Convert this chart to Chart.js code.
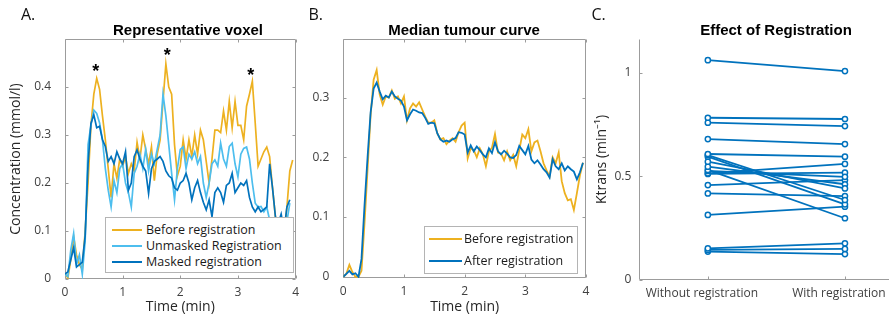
<!DOCTYPE html>
<html>
<head>
<meta charset="utf-8">
<script src="https://cdn.jsdelivr.net/npm/chart.js@4.4.1/dist/chart.umd.min.js"></script>
<style>
  html, body { margin:0; padding:0; width:889px; height:320px; overflow:hidden; background:#fff; }
  body { position:relative; }
  canvas { position:absolute; top:0; }
  .ttl { position:absolute; width:300px; text-align:center; font:bold 15px "Liberation Sans", Arial, sans-serif; line-height:15px; color:#000; white-space:nowrap; }
  .let { position:absolute; font:16px "Open Sans", sans-serif; line-height:16px; color:#111; }
  .lgd { position:absolute; background:#fff; border:1px solid #b4b4b4; box-sizing:border-box; }
  .lgi { position:absolute; font:12.5px "Open Sans", sans-serif; line-height:16px; color:#1a1a1a; white-space:nowrap; }
  .lsw { position:absolute; height:2px; }
</style>
</head>
<body>
<canvas id="cA" width="305" height="320" style="left:0px"></canvas>
<canvas id="cB" width="295" height="320" style="left:305px"></canvas>
<canvas id="cC" width="340" height="320" style="left:590px"></canvas>

<div class="let" style="left:21px;top:5.5px">A.</div>
<div class="let" style="left:308.5px;top:5.5px">B.</div>
<div class="let" style="left:591.5px;top:5.5px">C.</div>
<div class="ttl" id="tA" style="left:38px;top:22.3px"></div>
<div class="ttl" id="tB" style="left:314px;top:22.3px"></div>
<div class="ttl" id="tC" style="left:626px;top:22.3px"></div>
<div class="lgd" id="lgA" style="left:105px;top:217px;width:189px;height:56px"></div>
<div class="lgd" id="lgB" style="left:424px;top:226px;width:154px;height:48px"></div>

<script>
// ---------------- DATA ----------------
const panelTitles = ['Representative voxel', 'Median tumour curve', 'Effect of Registration'];
const timeMin = [0.00,0.05,0.10,0.15,0.20,0.25,0.30,0.35,0.40,0.45,0.50,0.55,0.60,0.65,0.70,0.75,
  0.80,0.85,0.90,0.95,1.00,1.05,1.10,1.15,1.20,1.25,1.30,1.35,1.40,1.45,1.50,1.55,
  1.60,1.65,1.70,1.75,1.80,1.85,1.90,1.95,2.00,2.05,2.10,2.15,2.20,2.25,2.30,2.35,
  2.40,2.45,2.50,2.55,2.60,2.65,2.70,2.75,2.80,2.85,2.90,2.95,3.00,3.05,3.10,3.15,
  3.20,3.25,3.30,3.35,3.40,3.45,3.50,3.55,3.60,3.65,3.70,3.75,3.80,3.85,3.90,3.95];

// Panel A: representative voxel
const seriesNamesA = ['Before registration', 'Unmasked Registration', 'Masked registration'];
const beforeA = [0.012,0.002,0.040,0.088,0.050,0.030,0.020,0.100, 0.200,0.320,0.385,0.418,0.395,0.340,0.290,0.230,
  0.170,0.240,0.210,0.250,0.235,0.255,0.220,0.240, 0.225,0.285,0.250,0.300,0.270,0.240,0.275,0.205,
  0.260,0.290,0.370,0.448,0.400,0.385,0.280,0.215, 0.235,0.290,0.250,0.290,0.255,0.300,0.260,0.310,
  0.290,0.245,0.200,0.250,0.310,0.310,0.305,0.350, 0.310,0.370,0.315,0.370,0.320,0.320,0.290,0.360,
  0.385,0.412,0.325,0.235,0.250,0.265,0.275,0.255, 0.190,0.130,0.100,0.110,0.095,0.150,0.225,0.248];
const unmaskedA = [0.010,0.005,0.060,0.095,0.030,0.050,0.010,0.080, 0.280,0.320,0.352,0.345,0.325,0.290,0.230,0.185,
  0.150,0.205,0.180,0.230,0.240,0.200,0.180,0.150, 0.220,0.235,0.260,0.230,0.270,0.225,0.260,0.240,
  0.270,0.300,0.385,0.340,0.280,0.220,0.165,0.230, 0.270,0.275,0.230,0.260,0.250,0.265,0.240,0.255,
  0.200,0.170,0.200,0.240,0.248,0.235,0.283,0.250, 0.235,0.276,0.283,0.240,0.213,0.260,0.272,0.275,
  0.250,0.200,0.158,0.150,0.151,0.140,0.150,0.123, 0.095,0.110,0.100,0.090,0.060,0.120,0.158,null];
const maskedA = [0.010,0.015,0.040,0.065,0.025,0.030,0.035,0.090, 0.240,0.324,0.342,0.315,0.318,0.290,0.276,0.245,
  0.255,0.240,0.265,0.250,0.240,0.265,0.185,0.200, 0.255,0.269,0.250,0.235,0.225,0.178,0.230,0.245,
  0.250,0.255,0.245,0.225,0.215,0.210,0.190,0.185, 0.200,0.205,0.220,0.200,0.165,0.190,0.205,0.180,
  0.160,0.144,0.165,0.130,0.180,0.190,0.180,0.160, 0.195,0.200,0.220,0.180,0.190,0.200,0.195,0.205,
  0.170,0.150,0.140,0.150,0.140,0.145,0.150,0.240, 0.190,0.130,0.116,0.135,0.100,0.150,0.165,null];
const starTimesA = [0.535, 1.772, 3.224];
const starLevelsA = [0.442, 0.474, 0.434];

// Panel B: median tumour curve
const seriesNamesB = ['Before registration', 'After registration'];
const beforeB = [0.000,0.005,0.020,0.008,0.000,0.000,0.010,0.090, 0.180,0.270,0.330,0.346,0.305,0.288,0.302,0.300,
  0.312,0.298,0.302,0.290,0.302,0.262,0.282,0.290, 0.285,0.292,0.280,0.268,0.258,0.258,0.262,0.240,
  0.230,0.232,0.222,0.228,0.232,0.226,0.242,0.253, 0.258,0.198,0.215,0.212,0.200,0.215,0.205,0.185,
  0.210,0.216,0.239,0.208,0.206,0.195,0.210,0.195, 0.204,0.185,0.212,0.238,0.232,0.247,0.210,0.225,
  0.228,0.210,0.190,0.178,0.168,0.200,0.190,0.208, 0.160,0.140,0.128,0.130,0.112,0.140,0.170,0.191];
const afterB = [0.000,0.005,0.010,0.004,0.006,0.000,0.030,0.120, 0.200,0.275,0.315,0.325,0.310,0.297,0.303,0.300,
  0.310,0.302,0.298,0.295,0.285,0.262,0.272,0.280, 0.278,0.275,0.274,0.266,0.256,0.258,0.257,0.240,
  0.230,0.226,0.228,0.226,0.230,0.232,0.242,0.241, 0.238,0.208,0.220,0.210,0.218,0.212,0.205,0.200,
  0.215,0.207,0.225,0.210,0.205,0.211,0.206,0.200, 0.199,0.204,0.219,0.212,0.205,0.219,0.196,0.190,
  0.195,0.188,0.180,0.175,0.166,0.197,0.185,0.180, 0.190,0.178,0.185,0.180,0.176,0.163,0.175,0.191];

// Panel C: Ktrans per tumour, without vs with registration
const categoriesC = ['Without registration', 'With registration'];
const ktransWithout = [1.061,0.783,0.759,0.680,0.608,0.603,0.595,0.571,0.547,0.531,0.526,0.515,0.512,0.458,0.418,0.314,0.153,0.145,0.137];
const ktransWith    = [1.008,0.777,0.743,0.656,0.595,0.386,0.365,0.442,0.462,0.298,0.498,0.560,0.518,0.482,0.405,0.354,0.177,0.150,0.125];

// Tick values
const timeTicks = [0, 1, 2, 3, 4];
const concTicksA = [0, 0.1, 0.2, 0.3, 0.4];
const concTicksB = [0, 0.1, 0.2, 0.3];
const ktransTicks = [0, 0.5, 1];

// ---------------- STYLE ----------------
const ORANGE = '#EDB120', LIGHT = '#4DBEEE', BLUE = '#0072BD';
const AXIS = '#9c9c9c', TICKTXT = '#404040', LABTXT = '#262626';
const tickFont = { family: 'Open Sans', size: 12 };
const labFont = { family: 'Open Sans', size: 14 };

const matlabAxes = {
  id: 'matlabAxes',
  beforeDatasetsDraw(chart, args, o) {
    const { ctx, chartArea: a, scales } = chart;
    const L = Math.round(a.left) + 0.5, R = Math.round(a.right) - 0.5;
    const T = Math.round(a.top) + 0.5, B = Math.round(a.bottom) - 0.5;
    const len = o.tickLen || 3;
    ctx.save();
    ctx.strokeStyle = AXIS; ctx.lineWidth = 1;
    ctx.beginPath();
    if (o.box) { ctx.rect(L, T, R - L, B - T); }
    else { ctx.moveTo(L, T); ctx.lineTo(L, B); ctx.lineTo(R, B); }
    scales.x.ticks.forEach(t => {
      const px = Math.round(scales.x.getPixelForValue(t.value)) + 0.5;
      ctx.moveTo(px, B); ctx.lineTo(px, B - len);
      if (o.box) { ctx.moveTo(px, T); ctx.lineTo(px, T + len); }
    });
    scales.y.ticks.forEach(t => {
      const py = Math.round(scales.y.getPixelForValue(t.value)) + 0.5;
      ctx.moveTo(L, py); ctx.lineTo(L + len, py);
      if (o.box) { ctx.moveTo(R, py); ctx.lineTo(R - len, py); }
    });
    ctx.stroke();
    ctx.restore();
  }
};

const starMarks = {
  id: 'starMarks',
  afterDatasetsDraw(chart, args, o) {
    if (!o.times) return;
    const { ctx, scales } = chart;
    ctx.save();
    ctx.fillStyle = '#000';
    ctx.font = 'bold 18px "Liberation Sans", Arial, sans-serif';
    ctx.textAlign = 'center'; ctx.textBaseline = 'alphabetic';
    o.times.forEach((t, i) => {
      const x = scales.x.getPixelForValue(t);
      const y = scales.y.getPixelForValue(o.levels[i]);
      ctx.fillText('*', x, y + 10);
    });
    ctx.restore();
  }
};

function pts(xs, ys) { return xs.map((x, i) => ({ x: x, y: ys[i] })); }

function timeScales(yMin, yMax, yTicks, yWidth, xHeight, yTitle) {
  return {
    x: {
      type: 'linear', min: 0, max: 4,
      afterBuildTicks: s => { s.ticks = timeTicks.map(v => ({ value: v })); },
      afterFit: s => { s.height = xHeight; },
      grid: { display: false, drawTicks: false }, border: { display: false },
      ticks: { padding: 6, font: tickFont, color: TICKTXT, maxRotation: 0, autoSkip: false, callback: v => String(v) },
      title: { display: true, text: 'Time (min)', font: labFont, color: LABTXT, padding: { top: 0, bottom: 5 } }
    },
    y: {
      type: 'linear', min: yMin, max: yMax,
      afterBuildTicks: s => { s.ticks = yTicks.map(v => ({ value: v })); },
      afterFit: s => { s.width = yWidth; },
      grid: { display: false, drawTicks: false }, border: { display: false },
      ticks: { padding: 14, font: tickFont, color: TICKTXT, autoSkip: false, callback: v => String(v) },
      title: { display: !!yTitle, text: yTitle || '', font: labFont, color: LABTXT, padding: { top: 8, bottom: 0 } }
    }
  };
}

const common = {
  responsive: false, animation: false, events: [],
  elements: { point: { radius: 0 }, line: { tension: 0 } }
};

// ---------------- PANEL A ----------------
const chartA = new Chart(document.getElementById('cA'), {
  type: 'line',
  data: {
    datasets: [
      { label: seriesNamesA[0], data: pts(timeMin, beforeA), borderColor: ORANGE, borderWidth: 1.7, order: 3 },
      { label: seriesNamesA[1], data: pts(timeMin, unmaskedA), borderColor: LIGHT, borderWidth: 1.7, order: 2 },
      { label: seriesNamesA[2], data: pts(timeMin, maskedA), borderColor: BLUE, borderWidth: 1.7, order: 1 }
    ]
  },
  options: Object.assign({}, common, {
    layout: { padding: { left: 0, right: 3, top: 39, bottom: 0 } },
    plugins: { legend: { display: false }, tooltip: { enabled: false },
      matlabAxes: { box: true }, starMarks: { times: starTimesA, levels: starLevelsA } },
    scales: timeScales(0, 0.5, concTicksA, 65, 41, 'Concentration (mmol/l)')
  }),
  plugins: [matlabAxes, starMarks]
});

// ---------------- PANEL B ----------------
const chartB = new Chart(document.getElementById('cB'), {
  type: 'line',
  data: {
    datasets: [
      { label: seriesNamesB[0], data: pts(timeMin, beforeB), borderColor: ORANGE, borderWidth: 1.8, order: 2 },
      { label: seriesNamesB[1], data: pts(timeMin, afterB), borderColor: BLUE, borderWidth: 1.8, order: 1 }
    ]
  },
  options: Object.assign({}, common, {
    layout: { padding: { left: 0, right: 14, top: 39, bottom: 0 } },
    plugins: { legend: { display: false }, tooltip: { enabled: false }, matlabAxes: { box: true } },
    scales: timeScales(-0.002, 0.398, concTicksB, 38.3, 42, null)
  }),
  plugins: [matlabAxes]
});

// ---------------- PANEL C ----------------
const chartC = new Chart(document.getElementById('cC'), {
  type: 'line',
  data: {
    datasets: ktransWithout.map((w, i) => ({
      label: 'Tumour ' + (i + 1),
      data: [{ x: 1, y: w }, { x: 2, y: ktransWith[i] }],
      borderColor: BLUE, borderWidth: 1.8,
      pointRadius: 2.6, pointBorderWidth: 1.5, pointBorderColor: BLUE, pointBackgroundColor: '#ffffff'
    }))
  },
  options: Object.assign({}, common, {
    layout: { padding: { left: 0, right: 16.5, top: 39, bottom: 0 } },
    plugins: { legend: { display: false }, tooltip: { enabled: false }, matlabAxes: { box: false } },
    scales: {
      x: {
        type: 'linear', min: 0.5, max: 2.5,
        afterBuildTicks: s => { s.ticks = categoriesC.map((c, i) => ({ value: i + 1 })); },
        afterFit: s => { s.height = 40; },
        grid: { display: false, drawTicks: false }, border: { display: false },
        ticks: { padding: 6, labelOffset: -6, font: tickFont, color: TICKTXT, maxRotation: 0, autoSkip: false,
          callback: v => categoriesC[Math.round(v) - 1] }
      },
      y: {
        type: 'linear', min: 0, max: 1.163,
        afterBuildTicks: s => { s.ticks = ktransTicks.map(v => ({ value: v })); },
        afterFit: s => { s.width = 49.3; },
        grid: { display: false, drawTicks: false }, border: { display: false },
        ticks: { padding: 8, font: tickFont, color: TICKTXT, autoSkip: false, callback: v => String(v) },
        title: { display: true, text: 'Ktrans (min\u207B\u00B9)', font: labFont, color: LABTXT, padding: { top: 3.3, bottom: 0 } }
      }
    }
  }),
  plugins: [matlabAxes]
});

// ---------------- titles & legends (HTML text) ----------------
document.getElementById('tA').textContent = panelTitles[0];
document.getElementById('tB').textContent = panelTitles[1];
document.getElementById('tC').textContent = panelTitles[2];

function buildLegend(id, chart, cfg) {
  const box = document.getElementById(id);
  chart.data.datasets.forEach((ds, i) => {
    const cy = cfg.firstY + i * cfg.step;
    const sw = document.createElement('div');
    sw.className = 'lsw';
    sw.style.left = cfg.lineX + 'px'; sw.style.width = cfg.lineW + 'px';
    sw.style.top = (cy - 1) + 'px'; sw.style.background = ds.borderColor;
    box.appendChild(sw);
    const tx = document.createElement('div');
    tx.className = 'lgi';
    tx.style.left = cfg.textX + 'px'; tx.style.top = (cy - 8.5) + 'px';
    tx.textContent = ds.label;
    box.appendChild(tx);
  });
}
buildLegend('lgA', chartA, { firstY: 12, step: 16.2, lineX: 6, lineW: 30, textX: 40 });
buildLegend('lgB', chartB, { firstY: 12, step: 22.4, lineX: 4, lineW: 33, textX: 39 });
</script>
</body>
</html>
